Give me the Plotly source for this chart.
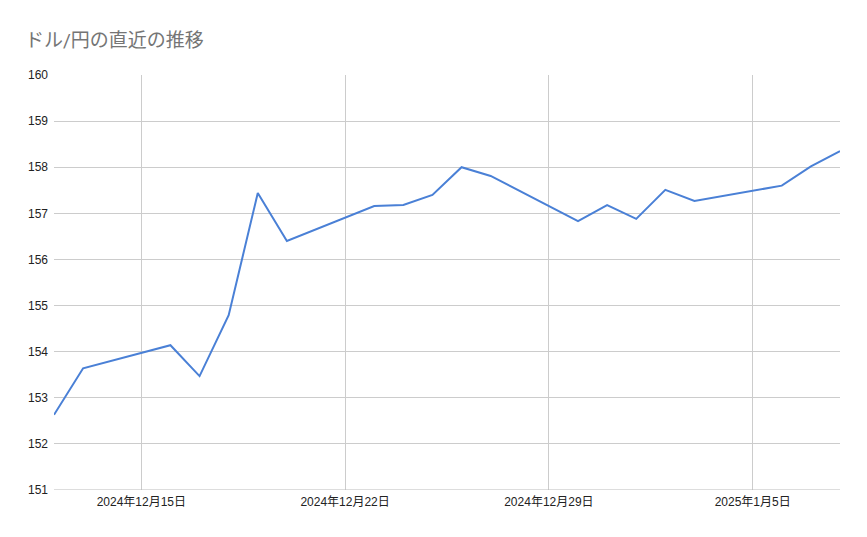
import pandas as pd
import plotly.graph_objects as go

# ドル/円 終値（営業日のみ）
dates = [
    "2024-12-12", "2024-12-13", "2024-12-16", "2024-12-17", "2024-12-18",
    "2024-12-19", "2024-12-20", "2024-12-23", "2024-12-24", "2024-12-25",
    "2024-12-26", "2024-12-27", "2024-12-30", "2024-12-31", "2025-01-01",
    "2025-01-02", "2025-01-03", "2025-01-06", "2025-01-07", "2025-01-08",
]
rates = [
    152.63, 153.64, 154.14, 153.47, 154.79,
    157.44, 156.40, 157.16, 157.18, 157.40,
    158.00, 157.81, 156.83, 157.18, 156.88,
    157.51, 157.27, 157.60, 158.02, 158.35,
]
tick_dates = ["2024-12-15", "2024-12-22", "2024-12-29", "2025-01-05"]
tick_labels = ["2024年12月15日", "2024年12月22日", "2024年12月29日", "2025年1月5日"]
y_ticks = list(range(151, 161))

x = pd.to_datetime(dates)
tick_font = dict(size=12, color="#222222", family="'Liberation Sans', Arial, 'Noto Sans CJK JP', sans-serif")

fig = go.Figure(go.Scatter(
    x=x, y=rates, mode="lines",
    line=dict(color="#4A80D6", width=2),
))

fig.update_layout(
    width=867, height=537,
    margin=dict(l=46, r=35, t=67, b=55),
    paper_bgcolor="white", plot_bgcolor="white",
    showlegend=False,
    font=dict(family="Roboto, 'Noto Sans CJK JP', sans-serif", size=12, color="#222222"),
    title=dict(
        text="ドル/円の直近の推移",
        x=0, xref="paper", xanchor="left", y=0.94, yanchor="middle",
        font=dict(size=19, color="#757575", family="Roboto, 'Noto Sans CJK JP', sans-serif"),
        pad=dict(l=-29),
    ),
    xaxis=dict(
        range=[x[0], x[-1]],
        tickvals=pd.to_datetime(tick_dates), ticktext=tick_labels,
        showgrid=True, gridcolor="#cccccc", gridwidth=1,
        showline=False, zeroline=False, ticks="",
        ticklabelstandoff=3,
        tickfont=tick_font,
    ),
    yaxis=dict(
        range=[151, 160], tickvals=y_ticks,
        showgrid=True, gridcolor="#cccccc", gridwidth=1,
        showline=False, zeroline=False, ticks="",
        ticklabelstandoff=5,
        tickfont=tick_font,
    ),
)
fig.add_hline(y=151, line=dict(color="#bbbbbb", width=1))

fig.write_html("out.html")
